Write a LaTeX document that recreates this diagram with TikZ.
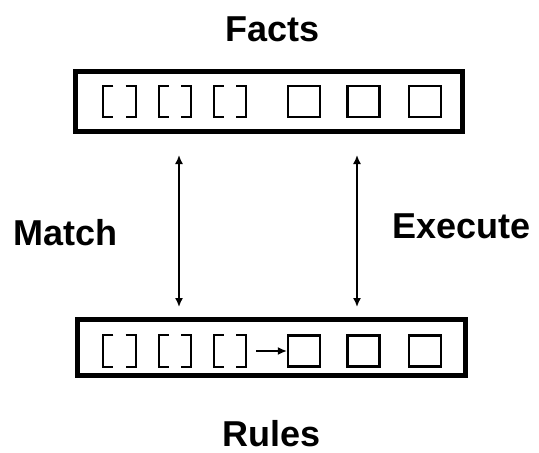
\documentclass[tikz,border=0pt]{standalone}
\usepackage{fontspec}
\setmainfont{Liberation Sans}
\usetikzlibrary{arrows.meta}
\begin{document}
\begin{tikzpicture}[x=1pt,y=-1pt,
  title/.style={font=\bfseries\fontsize{36}{36}\selectfont, inner sep=0pt},
  bank/.style={draw, line width=5pt, inner sep=0pt},
  cell/.style={draw, line width=2.2pt, minimum width=32pt, minimum height=31pt, inner sep=0pt},
  slot/.style={minimum width=32pt, minimum height=31pt, inner sep=0pt},
  link/.style={line width=1.6pt, {Latex[length=9pt,width=8pt]}-{Latex[length=9pt,width=8pt]}}]
\useasboundingbox (0,0) rectangle (539,453);
\node[title, anchor=base] (facts) at (272.5,41){Facts};
\node[title, anchor=base] (rules) at (271.5,446.5){Rules};
\node[title, anchor=base west] (match) at (13,245){Match};
\node[title, anchor=base west] (exec) at (392,238){Execute};
\node[bank, minimum width=387pt, minimum height=60pt] (fbank) at (269,101.5){};
\node[bank, minimum width=388pt, minimum height=56pt] (rbank) at (271.5,347.5){};
% facts row
\foreach \x [count=\i] in {119.5,175,230}{
  \node[slot] (f\i) at (\x,101.5){};
  \node[slot] (r\i) at (\x,351){};
}
\foreach \x [count=\i from 4] in {304,363.5,425}{
  \node[cell] (f\i) at (\x,101.5){};
  \node[cell] (r\i) at (\x,351){};
}
% brackets
\foreach \n in {f1,f2,f3,r1,r2,r3}{
  \draw[line width=2.2pt] ([xshift=10pt]\n.north west) -| (\n.south west) -- ([xshift=10pt]\n.south west);
  \draw[line width=2.2pt] ([xshift=-10pt]\n.north east) -| (\n.south east) -- ([xshift=-10pt]\n.south east);
}
\draw[line width=1.6pt, -{Latex[length=9pt,width=8pt]}] ([xshift=10pt]r3.east) -- (r4.west);
\coordinate (m1) at (179,155);
\coordinate (m2) at (179,307);
\coordinate (e1) at (357,155);
\coordinate (e2) at (357,307);
\draw[link] (m1) -- (m2);
\draw[link] (e1) -- (e2);
\end{tikzpicture}
\end{document}
